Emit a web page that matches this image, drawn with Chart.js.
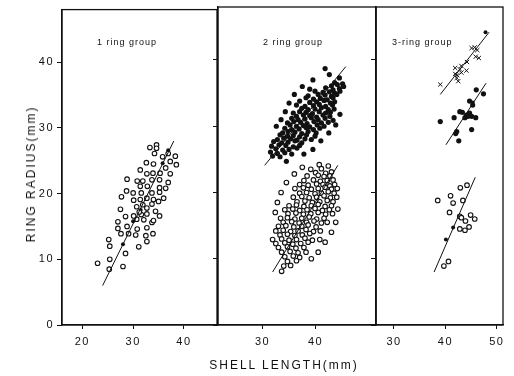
<!DOCTYPE html>
<html>
<head>
<meta charset="utf-8">
<script src="https://cdn.jsdelivr.net/npm/chart.js@4.4.0/dist/chart.umd.min.js"></script>
<style>
body { margin: 0; background: #fff; }
#wrap { position: relative; width: 514px; height: 376px; font-family: 'Liberation Sans', Arial, sans-serif; color: #111; }
canvas { position: absolute; left: 0; top: 0; }
.lbl { position: absolute; top: 37px; font-size: 9px; letter-spacing: 1px; white-space: nowrap; }
.ytitle { position: absolute; left: 31px; top: 174px; transform: translate(-50%, -50%) rotate(-90deg); font-size: 12px; letter-spacing: 2px; white-space: nowrap; }
.xtitle { position: absolute; left: 284px; top: 365px; transform: translate(-50%, -50%); font-size: 12px; letter-spacing: 2px; white-space: nowrap; }
</style>
</head>
<body>
<div id="wrap">
  <canvas id="p1" width="514" height="376"></canvas>
  <canvas id="p2" width="514" height="376"></canvas>
  <canvas id="p3" width="514" height="376"></canvas>
  <div class="lbl" style="left:97px">1 ring group</div>
  <div class="lbl" style="left:263px">2 ring group</div>
  <div class="lbl" style="left:392px">3-ring group</div>
  <div class="ytitle">RING RADIUS(mm)</div>
  <div class="xtitle">SHELL LENGTH(mm)</div>
</div>
<script>
// tick labels
const yTicks = [0, 10, 20, 30, 40];
const xTicks1 = [20, 30, 40];
const xTicks2 = [30, 40];
const xTicks3 = [30, 40, 50];

// 1 ring group: [shell length, ring radius]
const ring1Open = [[23.0,9.4],[25.4,10.0],[25.4,12.0],[25.2,13.0],[25.3,8.5],[28.0,8.9],[28.5,10.9],[31.1,11.9],[32.7,12.7],
  [27.6,13.9],[29.1,13.9],[30.5,13.7],[32.5,13.6],[33.9,13.9],
  [27.0,14.7],[28.8,15.0],[30.8,14.6],[32.7,14.8],[33.7,15.6],
  [27.0,15.7],[30.7,16.1],[32.1,16.0],[34.0,15.9],
  [28.5,16.5],[30.1,16.6],[31.6,16.8],[32.7,16.9],[34.4,17.3],[35.2,16.6],[31.2,17.2],
  [27.5,17.6],[30.7,18.0],[31.9,18.3],[32.7,17.8],[33.7,18.4],
  [27.7,19.5],[30.1,19.0],[31.4,19.1],[32.7,19.3],[34.0,19.1],[36.0,19.3],[35.0,18.8],
  [28.7,20.4],[30.0,20.1],[31.6,20.1],[33.7,20.1],[35.2,20.2],
  [31.4,21.1],[32.8,21.1],[35.2,20.9],[36.4,20.8],
  [28.8,22.2],[30.8,21.9],[31.9,21.9],[33.7,22.1],[35.2,22.1],[36.9,21.7],
  [31.4,23.6],[32.7,23.0],[33.9,23.1],[36.4,23.9],[35.3,23.1],[37.3,23.0],
  [34.0,24.5],[32.6,24.7],[37.3,24.9],[38.5,24.4],
  [35.8,25.6],[38.3,25.7],[34.2,26.1],[36.9,26.1],
  [33.3,27.0],[34.6,27.4],[34.6,26.9]];
const ring1Means = [[28.0,12.3],[29.0,14.0],[30.0,15.8],[31.5,17.5],[35.8,24.6],[36.9,26.6]];
const ring1Line = [[24.0,6.0],[38.0,28.0]];

// 2 ring group: filled = 1st ring, open = 2nd ring
const ring2Filled = [[41.8,38.7],[44.5,37.3],[43.6,36.6],[45.1,36.4],[43.0,36.1],[44.1,36.3],[45.3,36.0],
  [38.9,35.6],[41.9,35.8],[43.3,35.5],[44.5,35.7],
  [39.9,35.3],[41.4,35.1],[42.6,35.2],[43.6,35.0],[44.6,35.3],
  [38.6,34.6],[40.5,34.8],[41.8,34.7],[43.0,34.5],[44.0,34.8],
  [38.2,34.3],[39.6,34.1],[40.9,34.2],[42.2,34.0],[43.3,34.3],
  [37.0,33.8],[38.9,33.6],[40.2,33.7],[41.6,33.9],[42.8,33.5],[43.6,33.7],
  [36.4,33.2],[38.0,33.0],[39.6,33.1],[40.7,33.3],[41.9,33.0],[43.2,33.2],
  [37.4,32.7],[38.6,32.5],[39.9,32.6],[41.1,32.8],[42.4,32.5],[43.5,32.6],
  [35.8,32.0],[37.0,32.2],[38.2,32.1],[39.4,31.9],[40.7,32.2],[41.9,32.0],[42.8,32.1],
  [36.4,31.5],[37.7,31.7],[38.9,31.6],[40.2,31.4],[41.4,31.7],[42.7,31.5],
  [35.5,31.2],[36.7,31.0],[38.0,31.1],[39.2,31.3],[40.5,31.0],[41.8,31.2],[43.3,30.9],
  [34.7,30.5],[35.9,30.7],[37.2,30.6],[38.4,30.4],[39.7,30.7],[41.1,30.5],[42.4,30.6],
  [35.2,30.2],[36.4,30.0],[37.7,30.1],[38.9,29.9],[40.3,30.2],[41.6,30.0],
  [34.2,29.7],[35.5,29.5],[36.9,29.6],[38.2,29.8],[39.6,29.5],[40.8,29.7],
  [33.8,29.0],[34.8,29.2],[36.1,29.1],[37.4,28.9],[38.6,29.2],[40.1,29.0],
  [33.3,28.7],[34.7,28.5],[35.8,28.6],[37.0,28.4],[38.3,28.7],[39.9,28.5],
  [32.8,28.0],[34.0,28.2],[35.3,28.1],[36.5,27.9],[38.0,28.1],[39.2,28.0],
  [32.1,27.7],[33.6,27.5],[34.8,27.6],[36.1,27.8],[37.4,27.5],
  [31.7,27.0],[33.1,27.2],[34.4,27.1],[35.8,26.9],[37.0,27.1],
  [32.5,26.6],[33.8,26.4],[35.0,26.5],[36.5,26.7],
  [31.5,26.1],[32.8,25.9],[34.2,26.0],[35.5,25.8],
  [31.9,25.5],[33.3,25.4],[34.5,24.7],
  [32.6,30.0],[33.5,31.0],[34.3,32.2],[35.0,33.5],[36.0,34.8],[37.5,36.0],[39.5,37.0],[42.6,37.8],
  [42.5,29.0],[43.8,30.2],[44.6,31.8],[41.0,27.8],[39.5,26.5],[37.8,25.8]];
const ring2FilledLine = [[30.4,24.1],[45.7,39.0]];
const ring2Open = [[40.7,24.2],[42.4,24.0],[39.1,23.5],[41.1,23.6],[40.0,23.0],[41.9,22.9],[43.0,23.1],
  [38.4,22.5],[40.5,22.6],[41.6,22.4],[42.7,22.5],
  [37.8,21.8],[39.6,21.9],[40.9,21.7],[42.2,21.8],[43.3,21.9],
  [37.0,21.2],[38.6,21.1],[40.2,21.3],[41.4,21.2],[42.7,21.0],[43.6,21.2],
  [36.1,20.6],[37.7,20.7],[39.2,20.5],[40.5,20.6],[41.8,20.8],[43.0,20.5],[44.1,20.6],
  [37.0,19.9],[38.3,20.0],[39.9,19.8],[41.1,19.9],[42.4,20.1],[43.5,19.9],
  [35.8,19.3],[37.4,19.4],[38.8,19.2],[40.2,19.3],[41.6,19.5],[42.8,19.2],[44.0,19.3],
  [36.5,18.6],[38.0,18.7],[39.4,18.5],[40.8,18.6],[42.2,18.8],[43.3,18.6],
  [35.0,18.0],[36.4,18.1],[37.8,17.9],[39.2,18.0],[40.5,18.2],[41.8,17.9],[43.0,18.0],
  [34.2,17.4],[35.7,17.5],[37.0,17.3],[38.4,17.4],[39.9,17.6],[41.3,17.3],[42.6,17.4],
  [34.8,16.8],[36.3,16.9],[37.7,16.7],[39.1,16.8],[40.5,17.0],[41.9,16.7],[43.2,16.8],
  [33.4,16.1],[34.7,16.2],[36.1,16.0],[37.4,16.1],[38.8,16.3],[40.2,16.0],[41.6,16.1],
  [33.9,15.5],[35.5,15.6],[36.9,15.4],[38.3,15.5],[39.7,15.7],[41.1,15.4],[42.2,15.5],
  [33.0,14.9],[34.4,15.0],[35.9,14.8],[37.4,14.9],[38.6,15.1],[40.1,14.8],
  [32.5,14.2],[33.9,14.3],[35.3,14.1],[36.7,14.2],[38.2,14.4],[39.6,14.1],[40.9,14.2],
  [33.3,13.6],[34.7,13.7],[36.1,13.5],[37.5,13.6],[38.9,13.8],
  [31.9,12.9],[33.6,13.0],[35.0,12.8],[36.4,12.9],[38.0,13.1],[39.4,12.8],[40.8,12.9],
  [32.5,12.3],[34.2,12.4],[35.7,12.2],[37.2,12.3],[38.6,12.5],
  [33.0,11.7],[34.7,11.8],[36.3,11.6],[37.8,11.7],
  [33.6,11.0],[35.2,11.1],[36.7,10.9],[38.2,11.0],
  [34.2,10.3],[35.8,10.4],[37.0,10.2],
  [34.7,9.6],[36.4,9.7],[34.0,8.9],[35.3,9.0],[33.6,8.1],
  [32.4,17.0],[32.8,18.5],[33.5,20.0],[34.5,21.5],[36.0,22.8],[37.5,23.8],
  [44.2,17.5],[43.8,15.5],[43.0,14.0],[41.8,12.5],[40.5,11.0],[39.2,10.0]];
const ring2OpenLine = [[31.9,8.0],[44.2,24.1]];

// 3-ring group: crosses = 1st ring, filled = 2nd ring, open = 3rd ring
const ring3Cross = [[45.7,41.9],[46.2,41.5],[45.1,41.8],[46.5,40.3],[45.9,40.5],[44.2,39.7],[43.1,39.1],[41.9,38.8],
  [42.8,38.6],[44.1,38.4],[41.9,37.9],[42.3,37.7],[43.1,38.1],[42.5,36.8],[39.0,36.3],[42.2,37.3]];
const ring3CrossLine = [[39.0,34.8],[48.5,44.2]];
const ring3Filled = [[46.0,35.5],[47.4,34.9],[44.7,33.8],[45.3,33.2],[42.8,32.2],[43.3,32.1],[41.7,31.3],[44.1,31.7],
  [44.7,32.0],[44.4,31.5],[45.1,31.5],[45.9,31.3],[43.8,31.3],[39.0,30.7],[42.2,29.2],[42.0,28.9],[45.1,29.5],[42.6,27.8]];
const ring3FilledLine = [[40.1,27.2],[47.9,36.5]];
const ring3Open = [[38.5,18.8],[41.0,19.5],[42.9,20.7],[44.2,21.1],[41.5,18.4],[43.4,18.8],[40.8,17.0],[42.8,16.4],
  [43.1,16.2],[44.9,16.6],[45.7,16.0],[43.9,15.7],[42.8,14.5],[43.8,14.3],[44.6,14.8],[40.6,9.6],[39.7,8.9]];
const ring3OpenLine = [[37.8,8.0],[45.8,22.3]];
const ring3Means = [[47.8,44.2],[45.3,33.6],[41.5,14.7],[40.1,12.9]];

const ink = '#111';

function pts(arr) {
  return arr.map(p => ({ x: p[0], y: p[1] }));
}

function openSet(arr) {
  return { data: pts(arr), pointStyle: 'circle', pointRadius: 2.3, borderWidth: 1.1,
    borderColor: ink, backgroundColor: '#fff' };
}
function filledSet(arr, r) {
  return { data: pts(arr), pointStyle: 'circle', pointRadius: r, borderWidth: 0,
    borderColor: ink, backgroundColor: ink };
}
function crossSet(arr) {
  return { data: pts(arr), pointStyle: 'crossRot', pointRadius: 3, borderWidth: 1,
    borderColor: ink, backgroundColor: ink };
}
function lineSet(arr) {
  return { data: pts(arr), showLine: true, pointRadius: 0, borderWidth: 1,
    borderColor: ink, backgroundColor: ink };
}

// frame round each panel
const framePlugin = {
  id: 'frame',
  beforeDraw(chart) {
    chart.ctx.letterSpacing = '1.5px';
  },
  afterDraw(chart) {
    const a = chart.chartArea;
    const ctx = chart.ctx;
    ctx.save();
    ctx.strokeStyle = ink;
    ctx.lineWidth = 1.3;
    ctx.strokeRect(a.left, a.top, a.right - a.left, a.bottom - a.top);
    ctx.restore();
  }
};

function makePanel(id, datasets, xMin, xMax, xTicks, pad, yLabels) {
  return new Chart(id, {
    type: 'scatter',
    data: { datasets: datasets },
    options: {
      responsive: false,
      animation: false,
      layout: { padding: pad },
      plugins: { legend: { display: false }, tooltip: { enabled: false } },
      scales: {
        x: {
          type: 'linear', min: xMin, max: xMax,
          afterBuildTicks: s => { s.ticks = xTicks.map(v => ({ value: v })); },
          afterFit: s => { s.height = 40; },
          ticks: { color: ink, padding: 6, font: { family: "'Liberation Sans', Arial, sans-serif", size: 11 } },
          grid: { drawOnChartArea: false, tickLength: 4, color: ink },
          border: { color: ink, width: 1.3 }
        },
        y: {
          min: 0, max: 48,
          afterBuildTicks: s => { s.ticks = yTicks.map(v => ({ value: v })); },
          afterFit: s => { s.width = yLabels ? 62 : 6; },
          ticks: { display: yLabels, color: ink, padding: 3, font: { family: "'Liberation Sans', Arial, sans-serif", size: 11 } },
          grid: { drawOnChartArea: false, tickLength: 5, color: ink },
          border: { color: ink, width: 1.3 }
        }
      }
    },
    plugins: [framePlugin]
  });
}

makePanel('p1', [lineSet(ring1Line), openSet(ring1Open), filledSet(ring1Means, 2)],
  16, 46.5, xTicks1, { left: 0, right: 297, top: 7, bottom: 11 }, true);

makePanel('p2', [lineSet(ring2FilledLine), lineSet(ring2OpenLine), openSet(ring2Open), filledSet(ring2Filled, 2.6)],
  21.6, 51.4, xTicks2, { left: 212, right: 138, top: 7, bottom: 11 }, false);

makePanel('p3', [lineSet(ring3CrossLine), lineSet(ring3FilledLine), lineSet(ring3OpenLine),
  crossSet(ring3Cross), filledSet(ring3Filled, 2.6), openSet(ring3Open), filledSet(ring3Means, 2)],
  26.5, 51.2, xTicks3, { left: 370, right: 11, top: 7, bottom: 11 }, false);
</script>
</body>
</html>
